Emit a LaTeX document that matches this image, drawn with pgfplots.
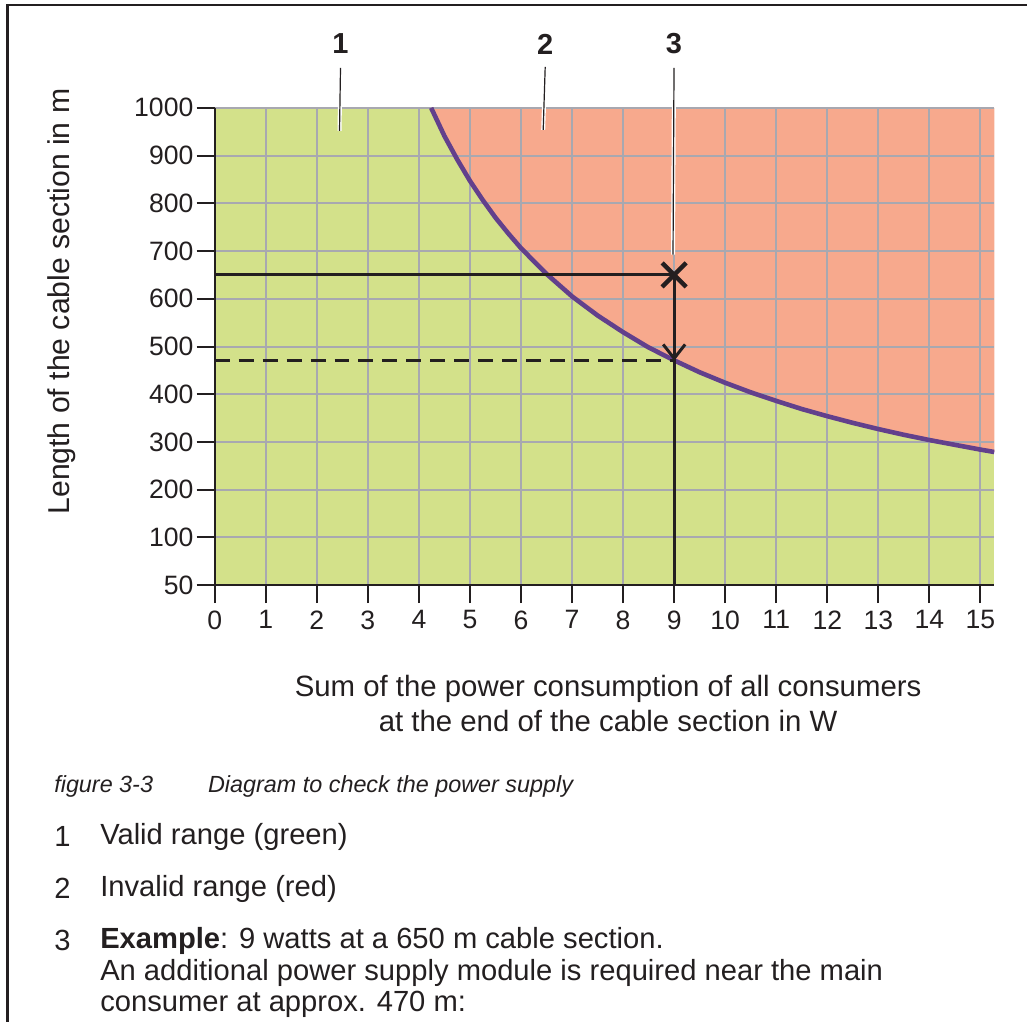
\documentclass[border=0pt]{standalone}
\usepackage{fontspec}
\setmainfont{Liberation Sans}
\usepackage{pgfplots}
\pgfplotsset{compat=1.18}
\usetikzlibrary{arrows.meta}
\definecolor{validgreen}{RGB}{211,225,138}
\definecolor{invalidred}{RGB}{247,169,141}
\definecolor{curvepurple}{RGB}{98,64,140}
\definecolor{gridgray}{RGB}{168,168,176}
\definecolor{txt}{RGB}{35,31,32}
\pgfplotstableread{
x y
4.24 1000
4.5 941
4.75 892
5 847
5.25 807
5.5 770
5.75 737
6 706
6.5 652
7 605
7.5 565
8 530
8.5 498
9 471
9.5 446
10 424
10.5 404
11 386
11.5 369
12 354
12.5 340
13 327
13.5 315
14 304
14.5 294
15 284
15.27 279
}\curvedata
\pgfplotstableread{
x y
4.24 1000
4.5 941
4.75 892
5 847
5.25 807
5.5 770
5.75 737
6 706
6.5 652
7 605
7.5 565
8 530
8.5 498
9 471
9.5 446
10 424
10.5 404
11 386
11.5 369
12 354
12.5 340
13 327
13.5 315
14 304
14.5 294
15 284
15.27 279
15.27 1000
}\reddata
\begin{document}
\begin{tikzpicture}
\begin{scope}[x=0.5pt,y=-0.5pt]
\path[use as bounding box] (0,0) rectangle (1028,1023);
\end{scope}
\begin{axis}[
  at={(107.5pt,-293pt)}, anchor=south west,
  scale only axis, width=390.35pt, height=239pt,
  xmin=0, xmax=15.27, ymin=0, ymax=1000,
  set layers=standard,
  axis x line*=bottom, axis y line*=left,
  axis line style={line width=1pt, txt},
  xtick={0,1,...,15}, ytick={0,100,...,1000},
  yticklabels={50,100,200,300,400,500,600,700,800,900,1000},
  tick align=outside, major tick length=9pt,
  tick style={line width=1pt, txt},
  grid=major, grid style={gridgray, line width=1pt},
  /pgf/number format/assume math mode=true,
  tick label style={font=\fontsize{13.3}{15}\selectfont, text=txt},
  yticklabel style={inner sep=1.5pt},
  xticklabel style={inner sep=3.5pt},
]
\addplot[on layer=axis background, fill=validgreen, draw=none] coordinates {(0,0) (15.27,0) (15.27,1000) (0,1000)};
\addplot[on layer=axis background, fill=invalidred, draw=none] table[x=x,y=y] {\reddata};
\addplot[curvepurple, line width=2.3pt] table[x=x,y=y] {\curvedata};
\addplot[txt, line width=1.5pt] coordinates {(0,650) (9,650)};
\addplot[txt, line width=1.5pt] coordinates {(9,650) (9,0)};
\addplot[txt, line width=1.5pt, dash pattern=on 7.5pt off 4.5pt] coordinates {(0,470) (9,470)};
\addplot[txt, line width=1.5pt, -{Straight Barb[length=7pt,width=11pt]}] coordinates {(9,560) (9,470)};
\addplot[txt, only marks, mark=x, mark size=8.5pt, mark options={line width=2.2pt}] coordinates {(9,650)};
\end{axis}
\begin{scope}[x=0.5pt,y=-0.5pt]
\draw[txt, line width=1.5pt] (8,1023) -- (8,5) -- (1028,5);
\foreach \a/\b/\c/\d in {341/68/340/131, 546/67/544/130, 675/68/674/255}{
  \draw[white, line width=2pt] (\a,\b) -- (\c,\d);
  \draw[txt, line width=0.6pt] (\a,\b) -- (\c,\d);
}
\node[font=\bfseries\fontsize{14.5}{16}\selectfont, text=txt] at (341,44) {1};
\node[font=\bfseries\fontsize{14.5}{16}\selectfont, text=txt] at (546,44) {2};
\node[font=\bfseries\fontsize{14.5}{16}\selectfont, text=txt] at (675,44) {3};
\node[rotate=90, font=\fontsize{15.1}{17}\selectfont, text=txt] at (62,302) {Length of the cable section in m};
\node[font=\fontsize{14.7}{16}\selectfont, text=txt] at (609,690) {Sum of the power consumption of all consumers};
\node[font=\fontsize{14.7}{16}\selectfont, text=txt] at (609,722) {at the end of the cable section in W};
\node[anchor=west, inner sep=0pt, font=\itshape\fontsize{11.7}{13}\selectfont, text=txt] at (54,788) {figure 3-3};
\node[anchor=west, inner sep=0pt, font=\itshape\fontsize{11.7}{13}\selectfont, text=txt] at (208,788) {Diagram to check the power supply};
\node[anchor=west, inner sep=0pt, font=\fontsize{14.6}{16}\selectfont, text=txt] at (54,838) {1};
\node[anchor=west, inner sep=0pt, font=\fontsize{14.6}{16}\selectfont, text=txt] at (100,838) {Valid range (green)};
\node[anchor=west, inner sep=0pt, font=\fontsize{14.6}{16}\selectfont, text=txt] at (54,890) {2};
\node[anchor=west, inner sep=0pt, font=\fontsize{14.6}{16}\selectfont, text=txt] at (100,890) {Invalid range (red)};
\node[anchor=west, inner sep=0pt, font=\fontsize{14.6}{16}\selectfont, text=txt] at (54,942) {3};
\node[anchor=west, inner sep=0pt, font=\fontsize{14.6}{16}\selectfont, text=txt] at (100,942) {\textbf{Example}: 9 watts at a 650 m cable section.};
\node[anchor=west, inner sep=0pt, font=\fontsize{14.6}{16}\selectfont, text=txt] at (100,974) {An additional power supply module is required near the main};
\node[anchor=west, inner sep=0pt, font=\fontsize{14.6}{16}\selectfont, text=txt] at (100,1006) {consumer at approx. 470 m:};
\end{scope}
\end{tikzpicture}
\end{document}
